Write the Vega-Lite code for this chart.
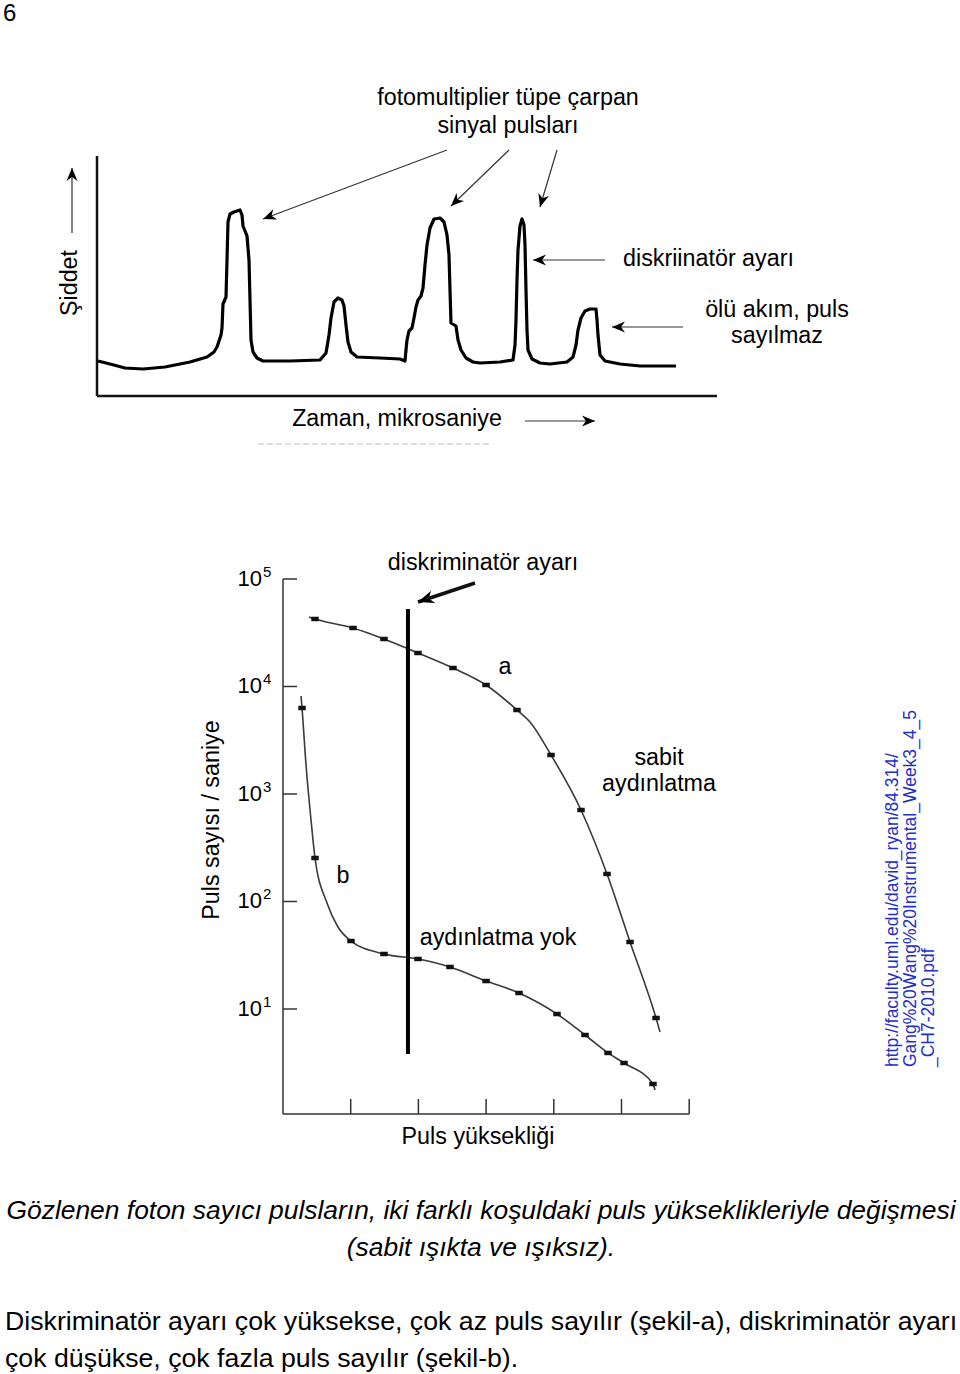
{
  "$schema": "https://vega.github.io/schema/vega-lite/v6.json",
  "width": 960,
  "height": 1374,
  "autosize": {"type": "none"},
  "padding": 0,
  "background": "white",
  "config": {"view": {"stroke": null}, "font": "Liberation Sans"},
  "datasets": {
    "trace": [
      {"t":0.1,"I":3.5},{"t":1.3,"I":3.2},{"t":2.8,"I":2.8},{"t":4.6,"I":2.7},{"t":6.8,"I":2.9},{"t":9.3,"I":3.4},
      {"t":11.0,"I":3.9},{"t":11.7,"I":4.4},{"t":12.0,"I":4.9},{"t":12.4,"I":6.1},{"t":12.5,"I":6.8},{"t":12.6,"I":9.2},
      {"t":12.9,"I":9.9},{"t":13.0,"I":13.6},{"t":13.1,"I":17.4},{"t":13.3,"I":18.2},{"t":13.7,"I":18.4},{"t":14.3,"I":18.6},
      {"t":14.5,"I":18.1},{"t":14.6,"I":17.0},{"t":15.0,"I":16.0},{"t":15.2,"I":13.6},{"t":15.3,"I":9.6},{"t":15.4,"I":5.6},
      {"t":15.6,"I":4.4},{"t":16.0,"I":3.8},{"t":16.6,"I":3.5},{"t":19.3,"I":3.5},{"t":22.3,"I":3.6},{"t":22.9,"I":4.3},
      {"t":23.2,"I":6.1},{"t":23.4,"I":7.8},{"t":23.7,"I":9.4},{"t":24.1,"I":9.8},{"t":24.5,"I":9.6},{"t":24.7,"I":9.0},
      {"t":24.9,"I":7.1},{"t":25.1,"I":5.4},{"t":25.4,"I":4.4},{"t":26.0,"I":3.9},{"t":28.3,"I":3.8},{"t":30.3,"I":3.7},
      {"t":30.8,"I":3.5},{"t":30.9,"I":4.6},{"t":31.0,"I":5.6},{"t":31.2,"I":6.5},{"t":31.5,"I":6.8},{"t":31.7,"I":7.8},
      {"t":31.9,"I":8.9},{"t":32.1,"I":9.6},{"t":32.4,"I":10.0},{"t":32.6,"I":10.8},{"t":32.8,"I":13.1},{"t":33.0,"I":15.1},
      {"t":33.3,"I":16.8},{"t":33.7,"I":17.7},{"t":34.3,"I":17.8},{"t":34.7,"I":17.4},{"t":35.0,"I":16.1},{"t":35.2,"I":14.1},
      {"t":35.3,"I":10.6},{"t":35.4,"I":7.3},{"t":35.9,"I":7.0},{"t":36.1,"I":5.6},{"t":36.4,"I":4.6},{"t":36.9,"I":3.8},
      {"t":37.6,"I":3.4},{"t":38.3,"I":3.3},{"t":40.3,"I":3.4},{"t":41.6,"I":3.6},{"t":41.8,"I":5.1},{"t":41.9,"I":7.6},
      {"t":42.0,"I":11.6},{"t":42.1,"I":14.6},{"t":42.3,"I":17.0},{"t":42.5,"I":17.7},{"t":42.7,"I":17.1},{"t":42.8,"I":15.1},
      {"t":42.9,"I":10.6},{"t":43.0,"I":6.6},{"t":43.1,"I":4.6},{"t":43.5,"I":3.7},{"t":44.3,"I":3.3},{"t":45.3,"I":3.2},
      {"t":47.0,"I":3.4},{"t":47.6,"I":3.9},{"t":47.9,"I":5.1},{"t":48.1,"I":6.6},{"t":48.4,"I":7.8},{"t":48.8,"I":8.5},
      {"t":49.3,"I":8.7},{"t":49.9,"I":8.7},{"t":50.0,"I":7.6},{"t":50.1,"I":6.1},{"t":50.3,"I":4.1},{"t":50.8,"I":3.5},
      {"t":52.3,"I":3.2},{"t":54.3,"I":3.0},{"t":57.9,"I":3.0}
    ],
    "topAxes": [
      {"t":0,"I":0,"t2":0,"I2":24.0},
      {"t":0,"I":0,"t2":62.0,"I2":0}
    ],
    "topArrows": [
      {"t":35.0,"I":24.6,"t2":16.6,"I2":17.7},
      {"t":41.2,"I":24.6,"t2":35.4,"I2":19.0},
      {"t":46.0,"I":24.6,"t2":44.3,"I2":18.9},
      {"t":50.8,"I":13.6,"t2":43.6,"I2":13.6},
      {"t":58.6,"I":6.9,"t2":51.5,"I2":6.9},
      {"t":42.8,"I":-2.5,"t2":49.8,"I2":-2.5},
      {"t":-2.5,"I":16.3,"t2":-2.5,"I2":22.8}
    ],
    "faint": [{"t":16.1,"I":-4.8,"t2":39.5,"I2":-4.8}],
    "topTitle": [
      {"t":41.1,"I":29.8,"label":"fotomultiplier tüpe çarpan\nsinyal pulsları"}
    ],
    "topLabels": [
      {"t":68.0,"I":8.65,"label":"ölü akım, puls\nsayılmaz"},
      {"t":30.0,"I":-2.3,"label":"Zaman, mikrosaniye"}
    ],
    "topLeft": [
      {"t":52.6,"I":13.7,"label":"diskriinatör ayarı"}
    ],
    "pageNo": [{"t":-9.4,"I":38.25,"label":"6"}],
    "topVertical": [{"t":-2.7,"I":11.3,"label":"Şiddet"}],
    "captionItalic": [
      {"t":38.4,"I":-81.5,"label":"Gözlenen foton sayıcı pulsların, iki farklı koşuldaki puls yükseklikleriyle değişmesi"},
      {"t":38.4,"I":-85.2,"label":"(sabit ışıkta ve ışıksız)."}
    ],
    "captionBody": [
      {"t":-9.2,"I":-92.6,"label":"Diskriminatör ayarı çok yüksekse, çok az puls sayılır (şekil-a), diskriminatör ayarı"},
      {"t":-9.2,"I":-96.3,"label":"çok düşükse, çok fazla puls sayılır (şekil-b)."}
    ],
    "curves": [
      {"series":"a","h":0.384,"c":44310,"m":false},
      {"series":"a","h":0.473,"c":42460,"m":true},
      {"series":"a","h":1.034,"c":35020,"m":true},
      {"series":"a","h":1.492,"c":27660,"m":true},
      {"series":"a","h":1.994,"c":20490,"m":true},
      {"series":"a","h":2.511,"c":14860,"m":true},
      {"series":"a","h":2.999,"c":10330,"m":true},
      {"series":"a","h":3.456,"c":6045,"m":true},
      {"series":"a","h":3.648,"c":4675,"m":false},
      {"series":"a","h":3.959,"c":2306,"m":true},
      {"series":"a","h":4.402,"c":710,"m":true},
      {"series":"a","h":4.786,"c":180.3,"m":true},
      {"series":"a","h":5.126,"c":42.0,"m":true},
      {"series":"a","h":5.510,"c":8.25,"m":true},
      {"series":"a","h":5.569,"c":6.11,"m":false},
      {"series":"b","h":0.266,"c":8157,"m":false},
      {"series":"b","h":0.281,"c":6310,"m":true},
      {"series":"b","h":0.340,"c":1861,"m":false},
      {"series":"b","h":0.414,"c":573.1,"m":false},
      {"series":"b","h":0.473,"c":253.9,"m":true},
      {"series":"b","h":0.650,"c":96.8,"m":false},
      {"series":"b","h":0.812,"c":57.9,"m":false},
      {"series":"b","h":1.004,"c":42.9,"m":true},
      {"series":"b","h":1.492,"c":32.5,"m":true},
      {"series":"b","h":1.994,"c":29.2,"m":true},
      {"series":"b","h":2.467,"c":24.6,"m":true},
      {"series":"b","h":2.999,"c":18.2,"m":true},
      {"series":"b","h":3.486,"c":14.09,"m":true},
      {"series":"b","h":4.047,"c":8.98,"m":true},
      {"series":"b","h":4.461,"c":5.73,"m":true},
      {"series":"b","h":4.801,"c":3.90,"m":true},
      {"series":"b","h":5.037,"c":3.146,"m":true},
      {"series":"b","h":5.465,"c":2.006,"m":true},
      {"series":"b","h":5.495,"c":1.764,"m":false}
    ],
    "bottomAxes": [
      {"h":0,"c":1.055,"h2":0,"c2":100000},
      {"h":0,"c":1.055,"h2":6,"c2":1.055}
    ],
    "yticks": [
      {"c":10,"exp":"1"},{"c":100,"exp":"2"},{"c":1000,"exp":"3"},{"c":10000,"exp":"4"},{"c":100000,"exp":"5"}
    ],
    "xticks": [{"h":1},{"h":2},{"h":3},{"h":4},{"h":5},{"h":6}],
    "discriminator": [{"h":1.846,"c":3.814,"c2":52590}],
    "bottomArrow": [{"h":2.836,"c":91800,"h2":1.994,"c2":61090}],
    "bottomLabels": [
      {"h":2.954,"c":140900,"label":"diskriminatör ayarı"},
      {"h":3.279,"c":15180,"label":"a"},
      {"h":5.554,"c":2140,"label":"sabit\naydınlatma"},
      {"h":0.886,"c":172.7,"label":"b"},
      {"h":3.176,"c":45.76,"label":"aydınlatma yok"},
      {"h":2.880,"c":0.6447,"label":"Puls yüksekliği"}
    ],
    "bottomVertical": [{"h":-1.049,"c":573.1,"label":"Puls sayısı / saniye"}],
    "url": [
      {"h":9.010,"c":2.887,"label":"http://faculty.uml.edu/david_ryan/84.314/"},
      {"h":9.276,"c":2.887,"label":"Gang%20Wang%20Instrumental_Week3_4_5"},
      {"h":9.542,"c":2.887,"label":"_CH7-2010.pdf"}
    ]
  },
  "layer": [
    {
      "encoding": {
        "x": {"field": "t", "type": "quantitative", "scale": {"domain": [-9.7, 86.3], "nice": false, "zero": false}, "axis": null},
        "y": {"field": "I", "type": "quantitative", "scale": {"domain": [-97.8, 39.6], "nice": false, "zero": false}, "axis": null}
      },
      "layer": [
        {
          "data": {"name": "topAxes"},
          "mark": {"type": "rule", "color": "#111", "strokeWidth": 2.5},
          "encoding": {"x2": {"field": "t2"}, "y2": {"field": "I2"}}
        },
        {
          "data": {"name": "trace"},
          "mark": {"type": "line", "color": "#000", "strokeWidth": 3.2, "strokeJoin": "round", "interpolate": "linear"}
        },
        {
          "data": {"name": "faint"},
          "mark": {"type": "rule", "color": "#d4d4d4", "strokeWidth": 1.5, "strokeDash": [6, 3]},
          "encoding": {"x2": {"field": "t2"}, "y2": {"field": "I2"}}
        },
        {
          "data": {"name": "topArrows"},
          "mark": {"type": "rule", "color": "#333", "strokeWidth": 1.2},
          "encoding": {"x2": {"field": "t2"}, "y2": {"field": "I2"}}
        },
        {
          "data": {"name": "topArrows"},
          "transform": [{"calculate": "atan2(datum.t2 - datum.t, datum.I2 - datum.I) * 180 / PI", "as": "heading"}],
          "mark": {"type": "point", "shape": "M0,0L-0.85,2L0,1.4L0.85,2Z", "filled": true, "color": "#000", "opacity": 1, "size": 169},
          "encoding": {
            "x": {"field": "t2", "type": "quantitative"},
            "y": {"field": "I2", "type": "quantitative"},
            "angle": {"field": "heading", "type": "quantitative", "scale": null}
          }
        },
        {
          "data": {"name": "topTitle"},
          "mark": {"type": "text", "font": "Liberation Sans", "fontSize": 23.3, "align": "center", "baseline": "middle", "lineBreak": "\n", "lineHeight": 28, "color": "#000"},
          "encoding": {"text": {"field": "label"}}
        },
        {
          "data": {"name": "topLabels"},
          "mark": {"type": "text", "font": "Liberation Sans", "fontSize": 23.3, "align": "center", "baseline": "middle", "lineBreak": "\n", "lineHeight": 26, "color": "#000"},
          "encoding": {"text": {"field": "label"}}
        },
        {
          "data": {"name": "topLeft"},
          "mark": {"type": "text", "font": "Liberation Sans", "fontSize": 23.3, "align": "left", "baseline": "middle", "color": "#000"},
          "encoding": {"text": {"field": "label"}}
        },
        {
          "data": {"name": "pageNo"},
          "mark": {"type": "text", "font": "Liberation Sans", "fontSize": 24, "align": "left", "baseline": "middle", "color": "#000"},
          "encoding": {"text": {"field": "label"}}
        },
        {
          "data": {"name": "topVertical"},
          "mark": {"type": "text", "font": "Liberation Sans", "fontSize": 23.3, "align": "center", "baseline": "middle", "angle": 270, "color": "#000"},
          "encoding": {"text": {"field": "label"}}
        },
        {
          "data": {"name": "captionItalic"},
          "mark": {"type": "text", "font": "Liberation Sans", "fontSize": 26.4, "fontStyle": "italic", "align": "center", "baseline": "middle", "color": "#000"},
          "encoding": {"text": {"field": "label"}}
        },
        {
          "data": {"name": "captionBody"},
          "mark": {"type": "text", "font": "Liberation Sans", "fontSize": 26.7, "align": "left", "baseline": "middle", "color": "#000"},
          "encoding": {"text": {"field": "label"}}
        }
      ]
    },
    {
      "layer": [
        {
          "data": {"name": "bottomAxes"},
          "mark": {"type": "rule", "color": "#333", "strokeWidth": 1.5},
          "encoding": {
            "x": {"field": "h", "type": "quantitative", "scale": {"domain": [-4.18021, 10.0], "nice": false, "zero": false}, "axis": null},
            "y": {"field": "c", "type": "quantitative", "scale": {"type": "log", "domain": [0.004024, 24320000000], "nice": false}, "axis": null},
            "x2": {"field": "h2"},
            "y2": {"field": "c2"}
          }
        },
        {
          "data": {"name": "yticks"},
          "mark": {"type": "rule", "color": "#333", "strokeWidth": 1.5},
          "encoding": {
            "x": {"datum": 0, "type": "quantitative", "scale": {"domain": [-4.18021, 10.0], "nice": false, "zero": false}, "axis": null},
            "x2": {"datum": 0.207},
            "y": {"field": "c", "type": "quantitative", "scale": {"type": "log", "domain": [0.004024, 24320000000], "nice": false}, "axis": null}
          }
        },
        {
          "data": {"name": "xticks"},
          "mark": {"type": "rule", "color": "#333", "strokeWidth": 1.5},
          "encoding": {
            "x": {"field": "h", "type": "quantitative", "scale": {"domain": [-4.18021, 10.0], "nice": false, "zero": false}, "axis": null},
            "y": {"datum": 1.055, "type": "quantitative", "scale": {"type": "log", "domain": [0.004024, 24320000000], "nice": false}, "axis": null},
            "y2": {"datum": 1.455}
          }
        },
        {
          "data": {"name": "yticks"},
          "mark": {"type": "text", "text": "10", "font": "Liberation Sans", "fontSize": 22, "align": "right", "baseline": "middle", "color": "#000"},
          "encoding": {
            "x": {"datum": -0.31, "type": "quantitative", "scale": {"domain": [-4.18021, 10.0], "nice": false, "zero": false}, "axis": null},
            "y": {"field": "c", "type": "quantitative", "scale": {"type": "log", "domain": [0.004024, 24320000000], "nice": false}, "axis": null}
          }
        },
        {
          "data": {"name": "yticks"},
          "mark": {"type": "text", "font": "Liberation Sans", "fontSize": 15, "align": "left", "baseline": "middle", "dx": 1, "dy": -7, "color": "#000"},
          "encoding": {
            "x": {"datum": -0.31, "type": "quantitative", "scale": {"domain": [-4.18021, 10.0], "nice": false, "zero": false}, "axis": null},
            "y": {"field": "c", "type": "quantitative", "scale": {"type": "log", "domain": [0.004024, 24320000000], "nice": false}, "axis": null},
            "text": {"field": "exp"}
          }
        },
        {
          "data": {"name": "curves"},
          "mark": {"type": "line", "color": "#3a3a3a", "strokeWidth": 1.6, "interpolate": "monotone"},
          "encoding": {
            "x": {"field": "h", "type": "quantitative", "scale": {"domain": [-4.18021, 10.0], "nice": false, "zero": false}, "axis": null},
            "y": {"field": "c", "type": "quantitative", "scale": {"type": "log", "domain": [0.004024, 24320000000], "nice": false}, "axis": null},
            "detail": {"field": "series"}
          }
        },
        {
          "data": {"name": "curves"},
          "transform": [{"filter": "datum.m"}],
          "mark": {"type": "point", "shape": "M-1,-0.6H1V0.6H-1Z", "filled": true, "color": "#111", "opacity": 1, "size": 56},
          "encoding": {
            "x": {"field": "h", "type": "quantitative", "scale": {"domain": [-4.18021, 10.0], "nice": false, "zero": false}, "axis": null},
            "y": {"field": "c", "type": "quantitative", "scale": {"type": "log", "domain": [0.004024, 24320000000], "nice": false}, "axis": null}
          }
        },
        {
          "data": {"name": "discriminator"},
          "mark": {"type": "rule", "color": "#000", "strokeWidth": 4},
          "encoding": {
            "x": {"field": "h", "type": "quantitative", "scale": {"domain": [-4.18021, 10.0], "nice": false, "zero": false}, "axis": null},
            "y": {"field": "c", "type": "quantitative", "scale": {"type": "log", "domain": [0.004024, 24320000000], "nice": false}, "axis": null},
            "y2": {"field": "c2"}
          }
        },
        {
          "data": {"name": "bottomArrow"},
          "mark": {"type": "rule", "color": "#111", "strokeWidth": 3.5},
          "encoding": {
            "x": {"field": "h", "type": "quantitative", "scale": {"domain": [-4.18021, 10.0], "nice": false, "zero": false}, "axis": null},
            "y": {"field": "c", "type": "quantitative", "scale": {"type": "log", "domain": [0.004024, 24320000000], "nice": false}, "axis": null},
            "x2": {"field": "h2"},
            "y2": {"field": "c2"}
          }
        },
        {
          "data": {"name": "bottomArrow"},
          "mark": {"type": "point", "shape": "M0,0L-0.8,2L0,1.4L0.8,2Z", "filled": true, "color": "#000", "opacity": 1, "size": 256, "angle": 251.5},
          "encoding": {
            "x": {"field": "h2", "type": "quantitative", "scale": {"domain": [-4.18021, 10.0], "nice": false, "zero": false}, "axis": null},
            "y": {"field": "c2", "type": "quantitative", "scale": {"type": "log", "domain": [0.004024, 24320000000], "nice": false}, "axis": null}
          }
        },
        {
          "data": {"name": "bottomLabels"},
          "mark": {"type": "text", "font": "Liberation Sans", "fontSize": 23.3, "align": "center", "baseline": "middle", "lineBreak": "\n", "lineHeight": 26, "color": "#000"},
          "encoding": {
            "x": {"field": "h", "type": "quantitative", "scale": {"domain": [-4.18021, 10.0], "nice": false, "zero": false}, "axis": null},
            "y": {"field": "c", "type": "quantitative", "scale": {"type": "log", "domain": [0.004024, 24320000000], "nice": false}, "axis": null},
            "text": {"field": "label"}
          }
        },
        {
          "data": {"name": "bottomVertical"},
          "mark": {"type": "text", "font": "Liberation Sans", "fontSize": 23.3, "align": "center", "baseline": "middle", "angle": 270, "color": "#000"},
          "encoding": {
            "x": {"field": "h", "type": "quantitative", "scale": {"domain": [-4.18021, 10.0], "nice": false, "zero": false}, "axis": null},
            "y": {"field": "c", "type": "quantitative", "scale": {"type": "log", "domain": [0.004024, 24320000000], "nice": false}, "axis": null},
            "text": {"field": "label"}
          }
        },
        {
          "data": {"name": "url"},
          "mark": {"type": "text", "font": "Liberation Sans", "fontSize": 17.5, "align": "left", "baseline": "middle", "angle": 270, "color": "#2230c8"},
          "encoding": {
            "x": {"field": "h", "type": "quantitative", "scale": {"domain": [-4.18021, 10.0], "nice": false, "zero": false}, "axis": null},
            "y": {"field": "c", "type": "quantitative", "scale": {"type": "log", "domain": [0.004024, 24320000000], "nice": false}, "axis": null},
            "text": {"field": "label"}
          }
        }
      ]
    }
  ],
  "resolve": {"scale": {"x": "independent", "y": "independent"}}
}
